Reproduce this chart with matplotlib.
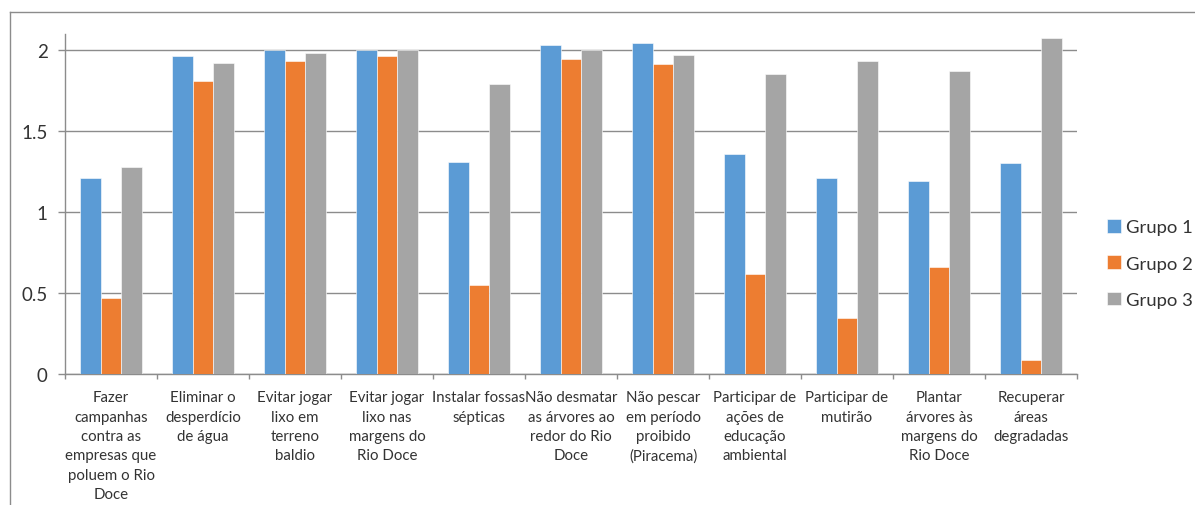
import matplotlib
matplotlib.use("Agg")
import matplotlib.pyplot as plt
import numpy as np
from matplotlib.lines import Line2D

plt.rcParams['font.family'] = ['Lato', 'DejaVu Sans']

categories = [
    "Fazer\ncampanhas\ncontra as\nempresas que\npoluem o Rio\nDoce",
    "Eliminar o\ndesperdício\nde água",
    "Evitar jogar\nlixo em\nterreno\nbaldio",
    "Evitar jogar\nlixo nas\nmargens do\nRio Doce",
    "Instalar fossas\nsépticas",
    "Não desmatar\nas árvores ao\nredor do Rio\nDoce",
    "Não pescar\nem período\nproibido\n(Piracema)",
    "Participar de\nações de\neducação\nambiental",
    "Participar de\nmutirão",
    "Plantar\nárvores às\nmargens do\nRio Doce",
    "Recuperar\náreas\ndegradadas",
]
grupo1 = [1.21, 1.96, 2.00, 2.00, 1.31, 2.03, 2.04, 1.36, 1.21, 1.19, 1.30]
grupo2 = [0.47, 1.81, 1.93, 1.96, 0.55, 1.94, 1.91, 0.62, 0.35, 0.66, 0.09]
grupo3 = [1.28, 1.92, 1.98, 2.00, 1.79, 2.00, 1.97, 1.85, 1.93, 1.87, 2.07]
series_names = ["Grupo 1", "Grupo 2", "Grupo 3"]
yticks = [0, 0.5, 1, 1.5, 2]
ytick_labels = ["0", "0.5", "1", "1.5", "2"]

colors = ["#5B9BD5", "#ED7D31", "#A5A5A5"]
grid_color = "#8C8C8C"

fig = plt.figure(figsize=(11.95, 5.06), dpi=100)
ax = fig.add_axes([65 / 1195, 1 - 375.3 / 506, (1077 - 65) / 1195, (375.3 - 34.5) / 506])

x = np.arange(len(categories))
w = 1 / 4.5
for i, (vals, name, c) in enumerate(zip([grupo1, grupo2, grupo3], series_names, colors)):
    ax.bar(x + (i - 1) * w, vals, width=w, color=c, label=name,
           edgecolor="white", linewidth=0.4, zorder=3)

ax.set_xlim(-0.5, len(categories) - 0.5)
ax.set_ylim(0, 2.1)

# y axis
ax.set_yticks(yticks)
ax.set_yticklabels(ytick_labels, fontsize=13.5, color="#333333")
ax.tick_params(axis="y", length=5, width=1, color=grid_color, pad=7.5)
ax.yaxis.grid(True, color=grid_color, linewidth=1, zorder=0)

# x axis: tick marks at category boundaries, labels at centres
ax.set_xticks(np.arange(len(categories) + 1) - 0.5)
ax.set_xticklabels([])
ax.tick_params(axis="x", which="major", length=3.6, width=1, color=grid_color)
ax.set_xticks(x, minor=True)
ax.set_xticklabels(categories, minor=True, fontsize=10.8, color="#333333",
                   linespacing=1.49, va="top")
ax.tick_params(axis="x", which="minor", length=0, pad=11.5)

for side in ["top", "right"]:
    ax.spines[side].set_visible(False)
for side in ["left", "bottom"]:
    ax.spines[side].set_color(grid_color)
    ax.spines[side].set_linewidth(1)

# legend
leg = fig.legend(loc="center left", bbox_to_anchor=(1107 / 1195, 1 - 264.5 / 506),
                 frameon=False, fontsize=13.3, handlelength=0.75, handleheight=0.75,
                 handletextpad=0.3, labelspacing=1.08, borderaxespad=0, borderpad=0)
for t in leg.get_texts():
    t.set_color("#333333")

# chart frame
fig.add_artist(Line2D([9.5 / 1195, 1.0], [1 - 13.3 / 506, 1 - 13.3 / 506],
                      transform=fig.transFigure, color="#8C8C8C", linewidth=1))
fig.add_artist(Line2D([9.5 / 1195, 9.5 / 1195], [0, 1 - 13.3 / 506],
                      transform=fig.transFigure, color="#8C8C8C", linewidth=1))

fig.savefig("out.png", dpi=100)
